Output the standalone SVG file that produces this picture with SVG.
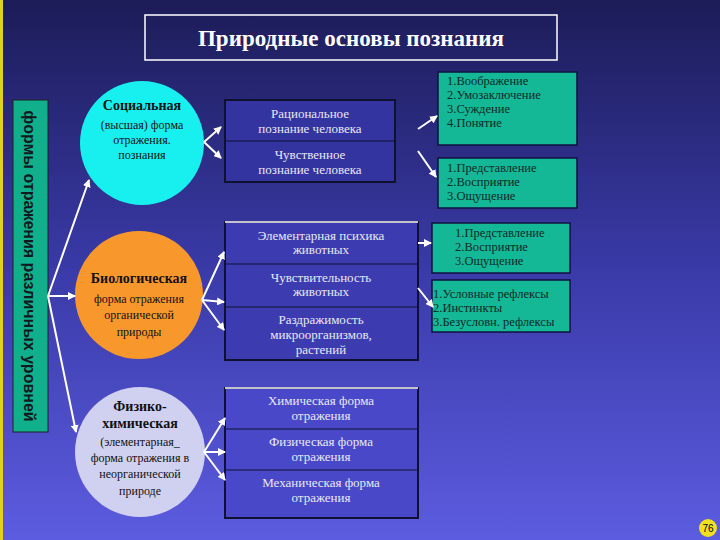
<svg xmlns="http://www.w3.org/2000/svg" width="720" height="540" viewBox="0 0 720 540">
<defs>
<linearGradient id="bg" x1="0" y1="0" x2="0" y2="1"><stop offset="0" stop-color="#1c1c58"/><stop offset="0.5" stop-color="#3a3aa8"/><stop offset="1" stop-color="#5c5ce0"/></linearGradient>
<marker id="ah" markerWidth="8" markerHeight="8" refX="7" refY="4" orient="auto" markerUnits="userSpaceOnUse"><path d="M0,0 L8,4 L0,8 z" fill="#fff"/></marker>
<style>
.t{font-family:"Liberation Serif",serif;font-size:13px;fill:#e8e8f4;text-anchor:middle}
.d{font-family:"Liberation Serif",serif;font-size:12px;fill:#111;text-anchor:middle}
.g{font-family:"Liberation Serif",serif;font-size:12.5px;fill:#0a2a2a}
.b{font-weight:bold;font-size:14px}
.box{fill:#3434a0;stroke:#101030;stroke-width:2}
.gr{fill:#14b896;stroke:#101040;stroke-width:1.5}
.cn line{stroke:#fff;stroke-width:2;marker-end:url(#ah)}
.dv{stroke:#101030;stroke-width:1.2}
</style>
</defs>
<rect width="720" height="540" fill="url(#bg)"/>
<rect x="0" y="0" width="3" height="540" fill="#e0d020"/>
<g id="title"><rect x="145" y="15" width="412" height="45" fill="none" stroke="#fff" stroke-width="1.5"/><text x="351" y="46" font-family="Liberation Serif,serif" font-size="23" font-weight="bold" fill="#fff" text-anchor="middle">Природные основы познания</text></g>
<g id="vlabel"><rect x="13" y="100" width="35" height="332" fill="#10b08c" stroke="#202020"/><text transform="translate(24,266) rotate(90)" font-family="Liberation Sans,Arial,sans-serif" font-size="16" font-weight="bold" fill="#101820" text-anchor="middle">формы отражения различных уровней</text></g>
<g id="social"><circle cx="142" cy="143" r="62" fill="#18f0f0"/><text class="d b" x="142" y="110">Социальная</text><text class="d" x="142" y="129">(высшая) форма</text><text class="d" x="142" y="144">отражения.</text><text class="d" x="142" y="159">познания</text></g>
<g id="bio"><circle cx="139" cy="295" r="64" fill="#f8982c"/><text class="d b" x="139" y="283">Биологическая</text><text class="d" x="139" y="303">форма отражения</text><text class="d" x="139" y="319">органической</text><text class="d" x="139" y="336">природы</text></g>
<g id="phys"><circle cx="140" cy="452" r="65" fill="#d0d0f0"/><text class="d b" x="140" y="411">Физико-</text><text class="d b" x="140" y="428">химическая</text><text class="d" x="140" y="446">(элементарная_</text><text class="d" x="140" y="462">форма отражения в</text><text class="d" x="140" y="478">неорганической</text><text class="d" x="140" y="495">природе</text></g>
<g id="human"><rect class="box" x="225" y="100" width="170" height="82"/><line class="dv" x1="225" y1="141" x2="395" y2="141"/><text class="t" x="310" y="118">Рациональное</text><text class="t" x="310" y="133">познание человека</text><text class="t" x="310" y="159">Чувственное</text><text class="t" x="310" y="174">познание человека</text></g>
<g id="animal"><path d="M225,222 H418 V360 H225 z" fill="#3c3cb0" stroke="#101030" stroke-width="2"/><line x1="225" y1="222" x2="418" y2="222" stroke="#fff" stroke-width="1.5"/><line class="dv" x1="225" y1="264" x2="418" y2="264"/><line class="dv" x1="225" y1="307" x2="418" y2="307"/><text class="t" x="321" y="240">Элементарная психика</text><text class="t" x="321" y="254">животных</text><text class="t" x="321" y="282">Чувствительность</text><text class="t" x="321" y="296">животных</text><text class="t" x="321" y="324">Раздражимость</text><text class="t" x="321" y="339">микроорганизмов,</text><text class="t" x="321" y="354">растений</text></g>
<g id="inorg"><path d="M225,388 H418 V518 H225 z" fill="#4848c8" stroke="#101030" stroke-width="2"/><line x1="225" y1="388" x2="418" y2="388" stroke="#fff" stroke-width="1.5"/><line class="dv" x1="225" y1="429" x2="418" y2="429"/><line class="dv" x1="225" y1="470" x2="418" y2="470"/><text class="t" x="321" y="405">Химическая форма</text><text class="t" x="321" y="420">отражения</text><text class="t" x="321" y="446">Физическая форма</text><text class="t" x="321" y="461">отражения</text><text class="t" x="321" y="487">Механическая форма</text><text class="t" x="321" y="502">отражения</text></g>
<g id="g1"><rect class="gr" x="438" y="72" width="139" height="73"/><text class="g" x="447" y="85">1.Воображение</text><text class="g" x="447" y="99">2.Умозаключение</text><text class="g" x="447" y="113">3.Суждение</text><text class="g" x="447" y="127">4.Понятие</text></g>
<g id="g2"><rect class="gr" x="438" y="158" width="139" height="50"/><text class="g" x="447" y="172">1.Представление</text><text class="g" x="447" y="186">2.Восприятие</text><text class="g" x="447" y="200">3.Ощущение</text></g>
<g id="g3"><rect class="gr" x="432" y="223" width="138" height="50"/><text class="g" x="455" y="237">1.Представление</text><text class="g" x="455" y="251">2.Восприятие</text><text class="g" x="455" y="265">3.Ощущение</text></g>
<g id="g4"><rect class="gr" x="432" y="280" width="138" height="52"/><text class="g" x="433" y="298">1.Условные рефлексы</text><text class="g" x="433" y="312">2.Инстинкты</text><text class="g" x="433" y="326">3.Безусловн. рефлексы</text></g>
<g class="cn" id="connectors">
<line x1="48" y1="296" x2="89" y2="180"/><line x1="48" y1="296" x2="75" y2="296"/><line x1="48" y1="296" x2="76" y2="432"/>
<line x1="204" y1="142" x2="221" y2="127"/><line x1="204" y1="142" x2="221" y2="158"/>
<line x1="202" y1="300" x2="224" y2="252"/><line x1="202" y1="300" x2="224" y2="302"/><line x1="202" y1="300" x2="224" y2="330"/>
<line x1="204" y1="452" x2="225" y2="418"/><line x1="204" y1="452" x2="225" y2="452"/><line x1="204" y1="452" x2="225" y2="480"/>
<line x1="418" y1="129" x2="437" y2="116"/><line x1="418" y1="151" x2="436" y2="177"/>
<line x1="418" y1="243" x2="431" y2="243"/><line x1="418" y1="288" x2="433" y2="307"/>
</g>
<g id="page"><circle cx="708" cy="528" r="9" fill="#f0e020"/><text x="708" y="532" font-family="Liberation Sans,sans-serif" font-size="10" fill="#000" text-anchor="middle">76</text></g>
</svg>
